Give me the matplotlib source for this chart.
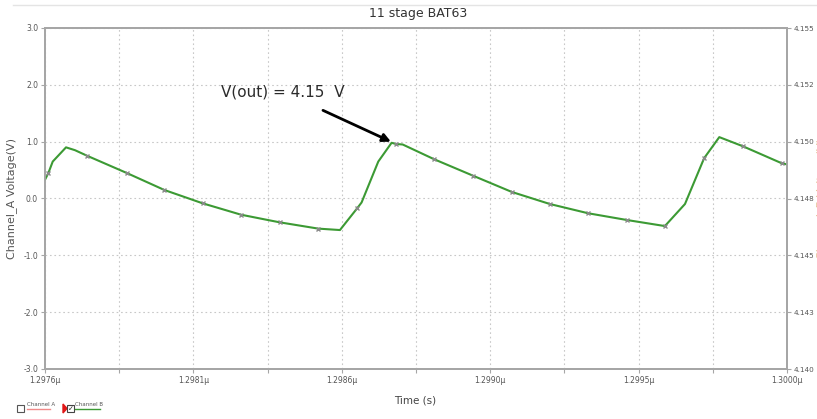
import matplotlib
matplotlib.use("Agg")
import matplotlib.pyplot as plt
from matplotlib.lines import Line2D
import numpy as np

# Channel B trace (time in µs, voltage in V on the left scale)
time_us = [1.297600, 1.297611, 1.297625, 1.297668, 1.297697, 1.297737,
           1.297864, 1.297986, 1.298110, 1.298234, 1.298322, 1.298360,
           1.298484, 1.298554, 1.298610, 1.298624, 1.298678, 1.298721,
           1.298735, 1.298757, 1.298859, 1.298985, 1.299110, 1.299233,
           1.299357, 1.299484, 1.299605, 1.299670, 1.299732, 1.299781,
           1.299857, 1.299983, 1.300000]
volts = [0.33, 0.45, 0.65, 0.90, 0.85, 0.75,
         0.45, 0.15, -0.085, -0.285, -0.38, -0.42,
         -0.53, -0.555, -0.17, -0.07, 0.65, 0.98,
         0.96, 0.95, 0.69, 0.40, 0.115, -0.097,
         -0.26, -0.38, -0.485, -0.097, 0.71, 1.08,
         0.92, 0.62, 0.60]
# indices of the sampled points drawn with a cursor mark
marked = [1, 5, 6, 7, 8, 9, 11, 12, 14, 18, 20, 21, 22, 23, 24, 25, 26, 28, 30, 31]

x_ticks = list(np.linspace(1.2976, 1.3000, 11))
x_labels = ["1.2976µ", "", "1.2981µ", "", "1.2986µ", "", "1.2990µ", "",
            "1.2995µ", "", "1.3000µ"]
y_ticks = [-3.0, -2.0, -1.0, 0.0, 1.0, 2.0, 3.0]
y_labels = ["-3.0", "-2.0", "-1.0", "0.0", "1.0", "2.0", "3.0"]
y2_ticks = [4.140, 4.1425, 4.145, 4.1475, 4.150, 4.1525, 4.155]
y2_labels = ["4.140", "4.143", "4.145", "4.148", "4.150", "4.152", "4.155"]

plt.rcParams["font.family"] = ["DejaVu Sans"]

W, H = 817, 419
fig = plt.figure(figsize=(W / 100, H / 100), dpi=100)
ax = fig.add_axes([45 / W, 1 - 369 / H, (787 - 45) / W, (369 - 28) / H])

spine_c = "#a6a6a6"
tick_c = "#555555"
for s in ax.spines.values():
    s.set_color(spine_c)
    s.set_linewidth(1.3)

ax.plot(time_us, volts, color="#3c9a34", lw=1.5, zorder=3)
ax.plot([time_us[i] for i in marked], [volts[i] for i in marked],
        ls="none", marker="x", ms=3.5, mew=1.0, color="#8a8a8a", zorder=4)

ax.set_xlim(1.2976, 1.3000)
ax.set_ylim(-3.0, 3.0)
ax.set_xticks(x_ticks)
ax.set_xticklabels(x_labels)
ax.set_yticks(y_ticks)
ax.set_yticklabels(y_labels)
ax.tick_params(axis="both", labelsize=5.5, colors=tick_c, length=3, width=0.8, pad=2)
ax.tick_params(axis="both", color=spine_c)
ax.grid(True, color="#c8c8c8", ls=(0, (1.5, 2.5)), lw=0.8)

ax2 = ax.twinx()
ax2.set_ylim(4.140, 4.155)
ax2.set_yticks(y2_ticks)
ax2.set_yticklabels(y2_labels)
ax2.tick_params(axis="y", labelsize=5.2, colors=tick_c, length=3, width=0.8,
                color=spine_c, pad=2)
for s in ax2.spines.values():
    s.set_color(spine_c)
    s.set_linewidth(1.3)

ax.set_ylabel("Channel_A Voltage(V)", fontsize=8, color="#555555")
ax.yaxis.set_label_coords((17 - 45) / 742, 0.5)
ax.set_xlabel("Time (s)", fontsize=7.5, color="#444444")
ax.xaxis.set_label_coords((415 - 45) / 742, (369 - 395) / 341)
fig.text(418 / W, 1 - 14 / H, "11 stage BAT63", ha="center", va="center",
         fontsize=9, color="#333333")
fig.text(822 / W, 1 - 198 / H, "Channel_B Voltage(V)", rotation=90,
         ha="center", va="center", fontsize=8, color="#e8c49a")

# thin frame line above the title
fig.add_artist(Line2D([13 / W, 1.0], [1 - 5 / H, 1 - 5 / H],
                      color="#e4e4e4", lw=1.0))

# annotation of the output voltage at the second peak
ax.annotate("V(out) = 4.15  V", xy=(time_us[18] - 0.000008, volts[18] + 0.02),
            xytext=(1.2976 + (283 - 45) / 742 * 0.0024, (198.5 - 92) / 56.8),
            ha="center", va="center", fontsize=11, color="#2b2b2b",
            arrowprops=dict(arrowstyle="-|>", color="black", lw=2.0,
                            mutation_scale=12, shrinkA=14, shrinkB=2))

# legend checkboxes at the bottom
def fx(px):
    return px / W

def fy(py):
    return 1 - py / H

fig.add_artist(plt.Rectangle((fx(17), fy(412)), 7 / W, 7 / H, fill=False,
                             ec="#555555", lw=0.8))
fig.text(fx(27), fy(404), "Channel A", fontsize=4, color="#555555", va="center")
fig.add_artist(Line2D([fx(27), fx(50)], [fy(409), fy(409)], color="#f08a8a", lw=1.0))
fig.add_artist(plt.Polygon([(fx(63), fy(404)), (fx(63), fy(413)), (fx(67), fy(408.5))],
                           closed=True, color="#e01818"))
fig.add_artist(plt.Rectangle((fx(67), fy(412)), 7 / W, 7 / H, fill=False,
                             ec="#444444", lw=0.8))
fig.text(fx(68), fy(409), "✓", fontsize=5, color="#222222", va="center")
fig.text(fx(75), fy(404), "Channel B", fontsize=4, color="#555555", va="center")
fig.add_artist(Line2D([fx(75), fx(100)], [fy(409), fy(409)], color="#3c9a34", lw=1.0))

fig.savefig("out.png", dpi=100, facecolor="white")
